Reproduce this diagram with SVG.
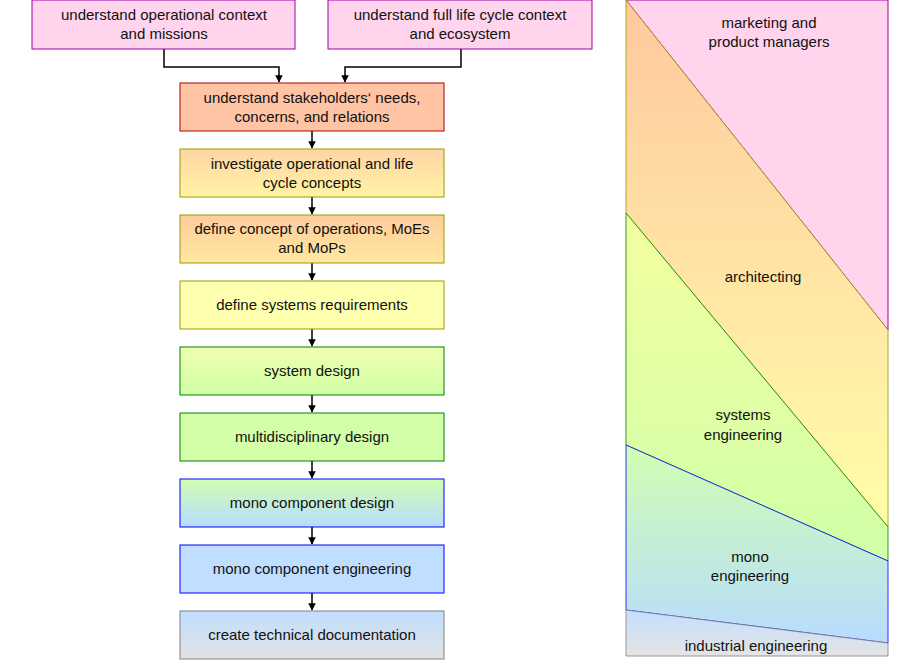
<svg xmlns="http://www.w3.org/2000/svg" width="920" height="660" viewBox="0 0 920 660">
<defs>
<style>
text{font-family:"Liberation Sans",Arial,sans-serif;font-size:15px;fill:#111;text-anchor:middle}
.c{fill:none;stroke:#000;stroke-width:1.5;marker-end:url(#a)}
</style>
<marker id="a" viewBox="0 0 10 10" refX="9" refY="5" markerWidth="5" markerHeight="5" orient="auto"><path d="M0,0L10,5L0,10z" fill="#000"/></marker>
<linearGradient id="g1" x1="0" y1="0" x2="0" y2="1"><stop offset="0" stop-color="#ffd4a4"/><stop offset="1" stop-color="#fff4a4"/></linearGradient>
<linearGradient id="g2" x1="0" y1="0" x2="0" y2="1"><stop offset="0" stop-color="#ffcc9c"/><stop offset="1" stop-color="#ffe8a0"/></linearGradient>
<linearGradient id="g3" x1="0" y1="0" x2="0" y2="1"><stop offset="0" stop-color="#f0ffb0"/><stop offset="1" stop-color="#d0ffa4"/></linearGradient>
<linearGradient id="g4" x1="0" y1="0" x2="0" y2="1"><stop offset="0" stop-color="#d0ffb0"/><stop offset="1" stop-color="#b8dcff"/></linearGradient>
<linearGradient id="g5" x1="0" y1="0" x2="0" y2="1"><stop offset="0" stop-color="#c0deff"/><stop offset="1" stop-color="#e2e2e2"/></linearGradient>
<linearGradient id="r1" gradientUnits="userSpaceOnUse" x1="0" y1="0" x2="0" y2="527"><stop offset="0" stop-color="#ffc8a0"/><stop offset="1" stop-color="#ffffa8"/></linearGradient>
<linearGradient id="r2" gradientUnits="userSpaceOnUse" x1="0" y1="213" x2="0" y2="561"><stop offset="0" stop-color="#f4ffa0"/><stop offset="1" stop-color="#d0ffa8"/></linearGradient>
<linearGradient id="r3" gradientUnits="userSpaceOnUse" x1="0" y1="445" x2="0" y2="643"><stop offset="0" stop-color="#d0ffb0"/><stop offset="1" stop-color="#b8dcff"/></linearGradient>
<linearGradient id="r4" gradientUnits="userSpaceOnUse" x1="0" y1="610" x2="0" y2="656"><stop offset="0" stop-color="#c4deff"/><stop offset="1" stop-color="#e4e4e4"/></linearGradient>
</defs>
<g id="connectors">
<path class="c" d="M164,49V67H279V82"/>
<path class="c" d="M461,49V67H345V82"/>
<path class="c" d="M312,131V148"/>
<path class="c" d="M312,197V214"/>
<path class="c" d="M312,263V280"/>
<path class="c" d="M312,329V346"/>
<path class="c" d="M312,395V412"/>
<path class="c" d="M312,461V478"/>
<path class="c" d="M312,527V544"/>
<path class="c" d="M312,593V610"/>
</g>
<g id="n1"><rect x="32" y="0" width="263" height="49" fill="#ffd4ec" stroke="#a000a0"/><text x="164" y="20">understand operational context</text><text x="164" y="39">and missions</text></g>
<g id="n2"><rect x="328" y="0" width="264" height="49" fill="#ffd4ec" stroke="#a000a0"/><text x="460" y="20">understand full life cycle context</text><text x="460" y="39">and ecosystem</text></g>
<g id="n3"><rect x="180" y="83" width="264" height="48" fill="#ffc4a4" stroke="#b00000"/><text x="312" y="103">understand stakeholders‘ needs,</text><text x="312" y="122">concerns, and relations</text></g>
<g id="n4"><rect x="180" y="149" width="264" height="48" fill="url(#g1)" stroke="#999900"/><text x="312" y="169">investigate operational and life</text><text x="312" y="188">cycle concepts</text></g>
<g id="n5"><rect x="180" y="215" width="264" height="48" fill="url(#g2)" stroke="#999900"/><text x="312" y="234">define concept of operations, MoEs</text><text x="312" y="253">and MoPs</text></g>
<g id="n6"><rect x="180" y="281" width="264" height="48" fill="#ffffb0" stroke="#999900"/><text x="312" y="310">define systems requirements</text></g>
<g id="n7"><rect x="180" y="347" width="264" height="48" fill="url(#g3)" stroke="#008000"/><text x="312" y="376">system design</text></g>
<g id="n8"><rect x="180" y="413" width="264" height="48" fill="#d2ffa8" stroke="#008000"/><text x="312" y="442">multidisciplinary design</text></g>
<g id="n9"><rect x="180" y="479" width="264" height="48" fill="url(#g4)" stroke="#0000ff"/><text x="312" y="508">mono component design</text></g>
<g id="n10"><rect x="180" y="545" width="264" height="48" fill="#c0deff" stroke="#0000ff"/><text x="312" y="574">mono component engineering</text></g>
<g id="n11"><rect x="180" y="611" width="264" height="48" fill="url(#g5)" stroke="#808080"/><text x="312" y="640">create technical documentation</text></g>
<g id="panel">
<polygon points="626,0 888,0 888,330" fill="#ffd4ec" stroke="#a000a0"/>
<polygon points="626,0 888,330 888,527 626,213" fill="url(#r1)" stroke="#999900" stroke-width="0.8"/>
<polygon points="626,213 888,527 888,561 626,445" fill="url(#r2)" stroke="#008000" stroke-width="0.8"/>
<polygon points="626,445 888,561 888,643 626,610" fill="url(#r3)" stroke="#0000ff" stroke-width="0.8"/>
<polygon points="626,610 888,643 888,656 626,656" fill="url(#r4)" stroke="#808080" stroke-width="0.8"/>
<text x="769" y="28">marketing and</text><text x="769" y="47">product managers</text>
<text x="763" y="282">architecting</text>
<text x="743" y="420">systems</text><text x="743" y="440">engineering</text>
<text x="750" y="562">mono</text><text x="750" y="581">engineering</text>
<text x="756" y="651">industrial engineering</text>
</g>
</svg>
